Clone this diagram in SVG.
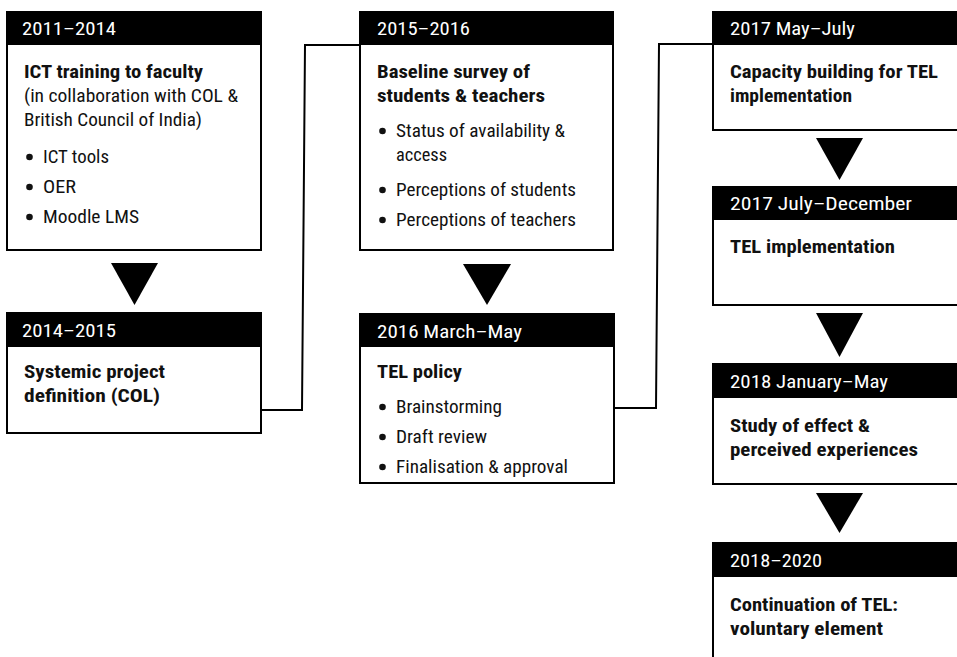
<svg xmlns="http://www.w3.org/2000/svg" width="957" height="657" viewBox="0 0 957 657">
<style>
.box{fill:#fff;stroke:#000;stroke-width:2}
.hdr{fill:#000}
text{font-family:"Liberation Sans Narrow","Roboto Condensed","Liberation Sans",Arial,sans-serif;font-size:18px;fill:#111}
.ht{fill:#fff}
.b{font-weight:bold}
.tri{fill:#000}
.conn{fill:none;stroke:#000;stroke-width:2}
.dot{fill:#111}
</style>
<rect width="957" height="657" fill="#fff"/>
<g id="connectors">
<polyline class="conn" points="261,410 302,410 305,45 360,45"/>
<polyline class="conn" points="614,408 656,408 659,44 713,44"/>
<polygon class="tri" points="111,263 158,263 134.5,305"/>
<polygon class="tri" points="463,264 511,264 487,305"/>
<polygon class="tri" points="816,138 863,138 839.5,180"/>
<polygon class="tri" points="816,313 863,313 839.5,357"/>
<polygon class="tri" points="816,493 863,493 839.5,533"/>
</g>
<g id="n1">
<rect class="box" x="7" y="12" width="254" height="238"/>
<rect class="hdr" x="6" y="11" width="256" height="34"/>
<text class="ht" x="22" y="35" textLength="94" lengthAdjust="spacingAndGlyphs">2011–2014</text>
<text class="b" x="24" y="78" textLength="179" lengthAdjust="spacingAndGlyphs">ICT training to faculty</text>
<text x="24" y="102" textLength="214" lengthAdjust="spacingAndGlyphs">(in collaboration with COL &amp;</text>
<text x="24" y="126" textLength="178" lengthAdjust="spacingAndGlyphs">British Council of India)</text>
<circle class="dot" cx="29.5" cy="157" r="3.3"/>
<text x="43" y="163" textLength="66" lengthAdjust="spacingAndGlyphs">ICT tools</text>
<circle class="dot" cx="29.5" cy="187" r="3.3"/>
<text x="43" y="193" textLength="33" lengthAdjust="spacingAndGlyphs">OER</text>
<circle class="dot" cx="29.5" cy="217" r="3.3"/>
<text x="43" y="223" textLength="96" lengthAdjust="spacingAndGlyphs">Moodle LMS</text>
</g>
<g id="n2">
<rect class="box" x="7" y="313" width="254" height="120"/>
<rect class="hdr" x="6" y="312" width="256" height="35"/>
<text class="ht" x="22" y="337" textLength="94" lengthAdjust="spacingAndGlyphs">2014–2015</text>
<text class="b" x="24" y="378" textLength="141" lengthAdjust="spacingAndGlyphs">Systemic project</text>
<text class="b" x="24" y="402" textLength="136" lengthAdjust="spacingAndGlyphs">definition (COL)</text>
</g>
<g id="n3">
<rect class="box" x="360" y="12" width="253" height="238"/>
<rect class="hdr" x="359" y="11" width="255" height="34"/>
<text class="ht" x="377" y="35" textLength="93" lengthAdjust="spacingAndGlyphs">2015–2016</text>
<text class="b" x="377" y="78" textLength="153" lengthAdjust="spacingAndGlyphs">Baseline survey of</text>
<text class="b" x="377" y="102" textLength="168" lengthAdjust="spacingAndGlyphs">students &amp; teachers</text>
<circle class="dot" cx="382.5" cy="131" r="3.3"/>
<text x="396" y="137" textLength="169" lengthAdjust="spacingAndGlyphs">Status of availability &amp;</text>
<text x="396" y="161" textLength="51" lengthAdjust="spacingAndGlyphs">access</text>
<circle class="dot" cx="382.5" cy="190" r="3.3"/>
<text x="396" y="196" textLength="180" lengthAdjust="spacingAndGlyphs">Perceptions of students</text>
<circle class="dot" cx="382.5" cy="220" r="3.3"/>
<text x="396" y="226" textLength="180" lengthAdjust="spacingAndGlyphs">Perceptions of teachers</text>
</g>
<g id="n4">
<rect class="box" x="360" y="314" width="254" height="169"/>
<rect class="hdr" x="359" y="313" width="256" height="34"/>
<text class="ht" x="377" y="338" textLength="145" lengthAdjust="spacingAndGlyphs">2016 March–May</text>
<text class="b" x="377" y="378" textLength="85" lengthAdjust="spacingAndGlyphs">TEL policy</text>
<circle class="dot" cx="382.5" cy="407" r="3.3"/>
<text x="396" y="413" textLength="106" lengthAdjust="spacingAndGlyphs">Brainstorming</text>
<circle class="dot" cx="382.5" cy="437" r="3.3"/>
<text x="396" y="443" textLength="91" lengthAdjust="spacingAndGlyphs">Draft review</text>
<circle class="dot" cx="382.5" cy="467" r="3.3"/>
<text x="396" y="473" textLength="172" lengthAdjust="spacingAndGlyphs">Finalisation &amp; approval</text>
</g>
<g id="n5">
<rect class="box" x="713" y="12" width="260" height="118"/>
<rect class="hdr" x="712" y="11" width="262" height="34"/>
<text class="ht" x="730" y="35" textLength="125" lengthAdjust="spacingAndGlyphs">2017 May–July</text>
<text class="b" x="730" y="78" textLength="208" lengthAdjust="spacingAndGlyphs">Capacity building for TEL</text>
<text class="b" x="730" y="102" textLength="122" lengthAdjust="spacingAndGlyphs">implementation</text>
</g>
<g id="n6">
<rect class="box" x="713" y="187" width="260" height="118"/>
<rect class="hdr" x="712" y="186" width="262" height="34"/>
<text class="ht" x="730" y="210" textLength="182" lengthAdjust="spacingAndGlyphs">2017 July–December</text>
<text class="b" x="730" y="253" textLength="165" lengthAdjust="spacingAndGlyphs">TEL implementation</text>
</g>
<g id="n7">
<rect class="box" x="713" y="364" width="260" height="120"/>
<rect class="hdr" x="712" y="363" width="262" height="35"/>
<text class="ht" x="730" y="388" textLength="158" lengthAdjust="spacingAndGlyphs">2018 January–May</text>
<text class="b" x="730" y="432" textLength="140" lengthAdjust="spacingAndGlyphs">Study of effect &amp;</text>
<text class="b" x="730" y="456" textLength="188" lengthAdjust="spacingAndGlyphs">perceived experiences</text>
</g>
<g id="n8">
<rect class="box" x="713" y="543" width="260" height="130"/>
<rect class="hdr" x="712" y="542" width="262" height="35"/>
<text class="ht" x="730" y="567" textLength="92" lengthAdjust="spacingAndGlyphs">2018–2020</text>
<text class="b" x="730" y="611" textLength="168" lengthAdjust="spacingAndGlyphs">Continuation of TEL:</text>
<text class="b" x="730" y="635" textLength="153" lengthAdjust="spacingAndGlyphs">voluntary element</text>
</g>
</svg>
